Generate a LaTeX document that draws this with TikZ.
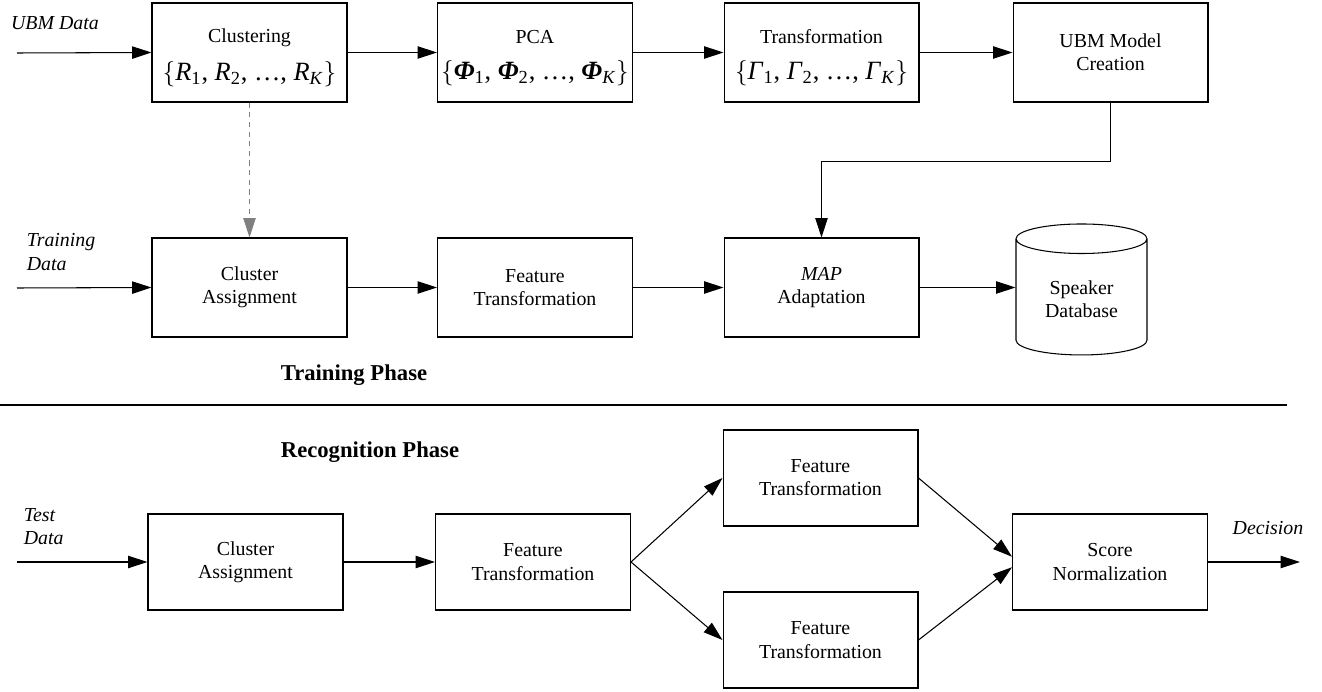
\documentclass[tikz,border=0pt]{standalone}
\usepackage{fontspec}
\setmainfont{Liberation Serif}
\usetikzlibrary{arrows.meta,shapes.geometric}

\begin{document}
\begin{tikzpicture}[x=0.02cm, y=-0.02cm]
    \tikzstyle{every node}=[font=\fontsize{11.3}{13.2}\selectfont, inner sep=2pt]
    \tikzstyle{block}=[draw, line width=0.6pt, minimum width=3.9cm, minimum height=1.98cm, align=center]
    \tikzstyle{lowblock}=[block, minimum height=1.92cm]
    \tikzstyle{lbl}=[font=\fontsize{11.3}{13.2}\selectfont\itshape, align=left]
    \tikzstyle{phase}=[font=\fontsize{12.9}{15}\selectfont\bfseries]
    \tikzstyle{arr}=[line width=0.6pt, -{Triangle[length=11pt, width=7pt]}]
    \newcommand{\setline}[1]{{\fontsize{15}{17}\selectfont$\{$#1$\}$}}
    \useasboundingbox (0,0) rectangle (1322,692);
    % training phase
    \draw (249.5,52.5) node[block] (clust) {\rule{0pt}{14pt}Clustering\\[7pt] \setline{\textit{R}\textsubscript{1}, \textit{R}\textsubscript{2}, \ldots, \textit{R}\textsubscript{\textit{K}}}};
    \draw (535,52.5) node[block] (pca) {\rule{0pt}{14pt}PCA\\[7pt] \setline{\textbf{\textit{Φ}}\textsubscript{1}, \textbf{\textit{Φ}}\textsubscript{2}, \ldots, \textbf{\textit{Φ}}\textsubscript{\textit{K}}}};
    \draw (821.5,52.5) node[block] (trans) {\rule{0pt}{14pt}Transformation\\[7pt] \setline{\textit{Γ}\textsubscript{1}, \textit{Γ}\textsubscript{2}, \ldots, \textit{Γ}\textsubscript{\textit{K}}}};
    \draw (1110.5,52.5) node[block] (ubm) {UBM Model\\Creation};
    \draw (249.5,287.5) node[block] (assign) {Cluster\\Assignment};
    \draw (535,287.5) node[block] (feat) {Feature\\Transformation};
    \draw (821.5,287.5) node[block] (map) {\textit{MAP}\\Adaptation};
    \draw (1081.5,299.5) node[draw, line width=0.6pt, cylinder, shape border rotate=90, minimum width=2.62cm, minimum height=2.62cm, aspect=0.37, align=center] (spk) {Speaker\\Database};
    \draw (55,23) node[lbl] (ubmlbl) {UBM Data};
    \draw (23,252) node[lbl, anchor=west] (trainlbl) {Training\\Data};
    \coordinate (ubmin) at (17,53);
    \coordinate (trainin) at (17,288);
    \draw[arr] (ubmin) -- (clust.west);
    \draw[arr] (clust) -- (pca);
    \draw[arr] (pca) -- (trans);
    \draw[arr] (trans) -- (ubm);
    \draw[arr] (ubm.south) -- ++(0,59) -| (map.north);
    \draw[arr, gray, dash pattern=on 3pt off 2.5pt] (clust.south) -- (assign.north);
    \draw[arr] (trainin) -- (assign.west);
    \draw[arr] (assign) -- (feat);
    \draw[arr] (feat) -- (map);
    \draw[arr] (map.east) -- (map.east -| spk.west);
    \draw (354,375) node[phase] (trainph) {Training Phase};
    \draw[line width=0.6pt] (0,405) -- (1287,405);
    % recognition phase
    \draw (370,452) node[phase] (recph) {Recognition Phase};
    \draw (20,527) node[lbl, anchor=west] (testlbl) {Test\\Data};
    \draw (245.5,562) node[lowblock] (assign2) {Cluster\\Assignment};
    \draw (533,562) node[lowblock] (feat2) {Feature\\Transformation};
    \draw (820.5,478) node[lowblock] (feat3) {Feature\\Transformation};
    \draw (820.5,640) node[lowblock] (feat4) {Feature\\Transformation};
    \draw (1110,562) node[lowblock] (score) {Score\\Normalization};
    \draw (1268,528) node[lbl] (declbl) {Decision};
    \coordinate (testin) at (17,562);
    \coordinate (decout) at (1300,562);
    \draw[arr] (testin) -- (assign2.west);
    \draw[arr] (assign2) -- (feat2);
    \draw[arr] (feat2.east) -- (feat3.west);
    \draw[arr] (feat2.east) -- (feat4.west);
    \draw[arr] (feat3.east) -- ([yshift=3pt]score.west);
    \draw[arr] (feat4.east) -- ([yshift=-3pt]score.west);
    \draw[arr] (score) -- (decout);
\end{tikzpicture}
\end{document}
